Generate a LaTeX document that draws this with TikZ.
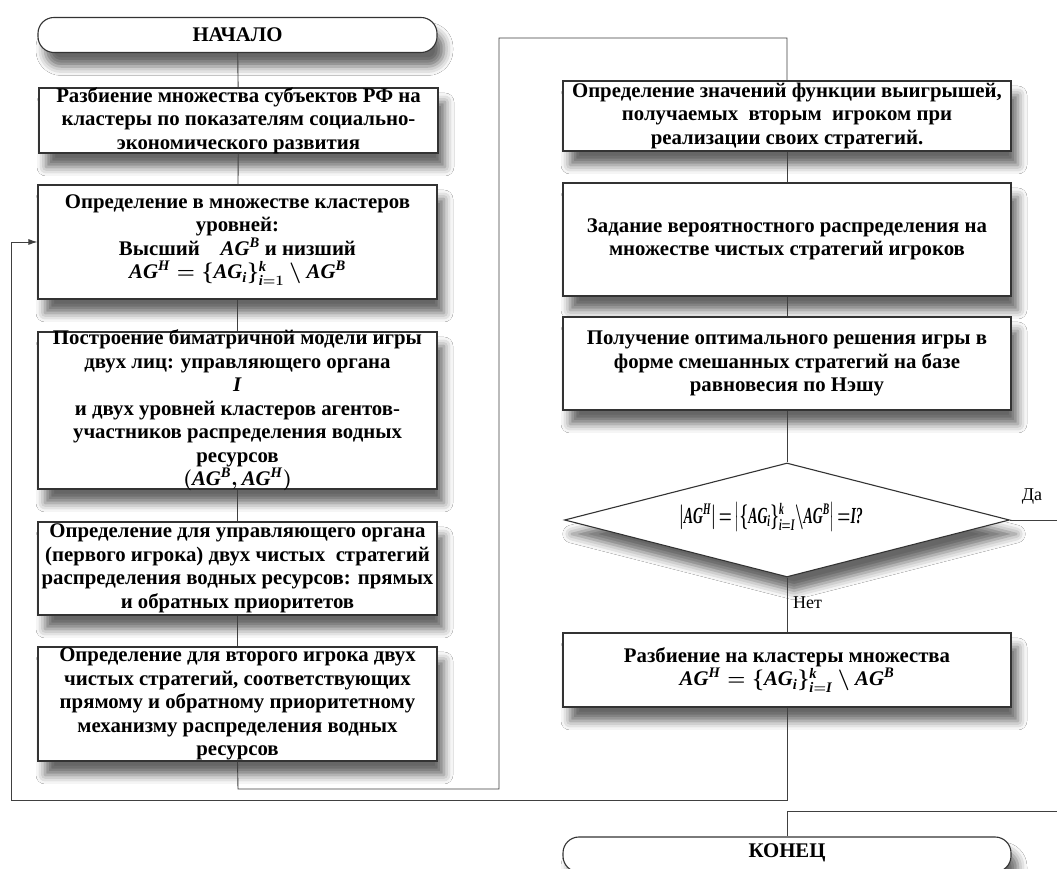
\documentclass[tikz,border=0pt]{standalone}
\usepackage{fontspec}
\setmainfont{Liberation Serif}
\usepackage{amsmath}
\usepackage{graphicx}
\usetikzlibrary{shadows.blur,shapes.geometric,arrows.meta}
\newcommand\mi[1]{\textbf{\textit{#1}}}
\tikzset{
  box/.style={draw=black!80, line width=1.1pt, fill=white, inner sep=0pt,
    blur shadow={shadow xshift=7pt, shadow yshift=-14pt, shadow blur radius=9pt, shadow opacity=60}},
  lbox/.style={box, minimum width=399pt},
  rbox/.style={box, minimum width=448pt},
  term/.style={box, rounded corners=16pt, minimum height=35pt},
  txt/.style={font=\bfseries\boldmath\fontsize{20.8}{23.5}\selectfont, align=center, inner sep=0pt},
  ftxt/.style={font=\bfseries\boldmath\fontsize{23}{25}\selectfont, inner sep=0pt},
  lbl/.style={font=\fontsize{18}{20}\selectfont, inner sep=0pt},
  conn/.style={draw=black!75, line width=0.9pt}
}
\begin{document}
\begin{tikzpicture}[x=1pt,y=1pt]
\useasboundingbox (0,0) rectangle (1057,869);
\clip (0,0) rectangle (1057,869);
\fill[white] (0,0) rectangle (1057,869);
% left column
\node[term, minimum width=399pt] (start) at (237.5,834) {};
\node[lbox, minimum height=65pt] (b1) at (238.5,748.5) {};
\node[lbox, minimum height=114pt] (b2) at (237.5,627) {};
\node[lbox, minimum height=157pt] (b3) at (237.5,458.5) {};
\node[lbox, minimum height=93pt] (b4) at (237.5,300.5) {};
\node[lbox, minimum height=114pt] (b5) at (237.5,165) {};
% right column
\node[rbox, minimum height=70pt] (b6) at (787,753) {};
\node[rbox, minimum height=113pt] (b7) at (787,629.5) {};
\node[rbox, minimum height=93pt] (b8) at (787,505.5) {};
\node[box, diamond, minimum width=445pt, minimum height=114pt] (dia) at (787,349) {};
\node[rbox, minimum height=74pt] (b9) at (787,199) {};
\node[term, minimum width=448pt] (fin) at (787,14.5) {};
% texts
\node[txt] (startt) at (237.5,834) {НАЧАЛО};
\node[txt] (b1t) at (b1.center) {Разбиение множества субъектов РФ на\\кластеры по показателям социально-\\экономического развития};
\node[txt] (b2t) at (237.5,629) {Определение в множестве кластеров\\уровней:\\Высший\quad $\mi{AG}^{\mi{B}}$ и низший\\$\mi{AG}^{\mi{H}}=\{\mi{AG}_{\mi{i}}\}_{\mi{i}=1}^{\mi{k}}\setminus\mi{AG}^{\mi{B}}$};
\node[txt] (b3t) at (b3.center) {Построение биматричной модели игры\\двух лиц: управляющего органа\\$\mi{I}$\\и двух уровней кластеров агентов-\\участников распределения водных\\ресурсов\\$(\mi{AG}^{\mi{B}},\mi{AG}^{\mi{H}})$};
\node[txt] (b4t) at (b4.center) {Определение для управляющего органа\\(первого игрока) двух чистых\ \ стратегий\\распределения водных ресурсов: прямых\\и обратных приоритетов};
\node[txt] (b5t) at (b5.center) {Определение для второго игрока двух\\чистых стратегий, соответствующих\\прямому и обратному приоритетному\\механизму распределения водных\\ресурсов};
\node[txt] (b6t) at (b6.center) {Определение значений функции выигрышей,\\получаемых\ \ вторым\ \ игроком при\\реализации своих стратегий.};
\node[txt] (b7t) at (b7.center) {Задание вероятностного распределения на\\множестве чистых стратегий игроков};
\node[txt] (b8t) at (b8.center) {Получение оптимального решения игры в\\форме смешанных стратегий на базе\\равновесия по Нэшу};
\node[ftxt] (diat) at (771,352) {\scalebox{0.6}[1]{$\left|\mi{AG}^{\mi{H}}\right|{=}\left|\{\mi{AG}_{\mi{i}}\}_{\mi{i}=\mi{I}}^{\mi{k}}{\setminus}\mi{AG}^{\mi{B}}\right|{=}\mi{I?}$}};
\node[txt] (b9t) at (b9.center) {Разбиение на кластеры множества\\$\mi{AG}^{\mi{H}}=\{\mi{AG}_{\mi{i}}\}_{\mi{i}=\mi{I}}^{\mi{k}}\setminus\mi{AG}^{\mi{B}}$};
\node[txt] (fint) at (787,16) {КОНЕЦ};
% labels
\node[lbl, anchor=west] (no) at (793,266) {Нет};
\node[lbl] (yes) at (1032,372) {Да};
% coordinates
\coordinate (c1) at (238,80);
\coordinate (c2) at (499,831);
\coordinate (c3) at (1075,349);
\coordinate (c4) at (1075,58);
\coordinate (c5) at (11,69);
\coordinate (c6) at (11,627);
% connectors
\draw[conn] (start) -- (b1);
\draw[conn] (b1) -- (b2);
\draw[conn] (b2) -- (b3);
\draw[conn] (b3) -- (b4);
\draw[conn] (b4) -- (b5);
\draw[conn] (b5.south) -- (c1) -| (c2) -| (b6.north);
\draw[conn] (b6) -- (b7);
\draw[conn] (b7) -- (b8);
\draw[conn] (b8) -- (dia);
\draw[conn] (dia.south) -- (b9.north);
\draw[conn] (dia.east) -- (c3) -- (c4) -| (fin.north);
\draw[conn, -{Latex[length=9pt,width=6pt]}] (b9.south) |- (c5) -- (c6) -- (b2.west);
\end{tikzpicture}
\end{document}
